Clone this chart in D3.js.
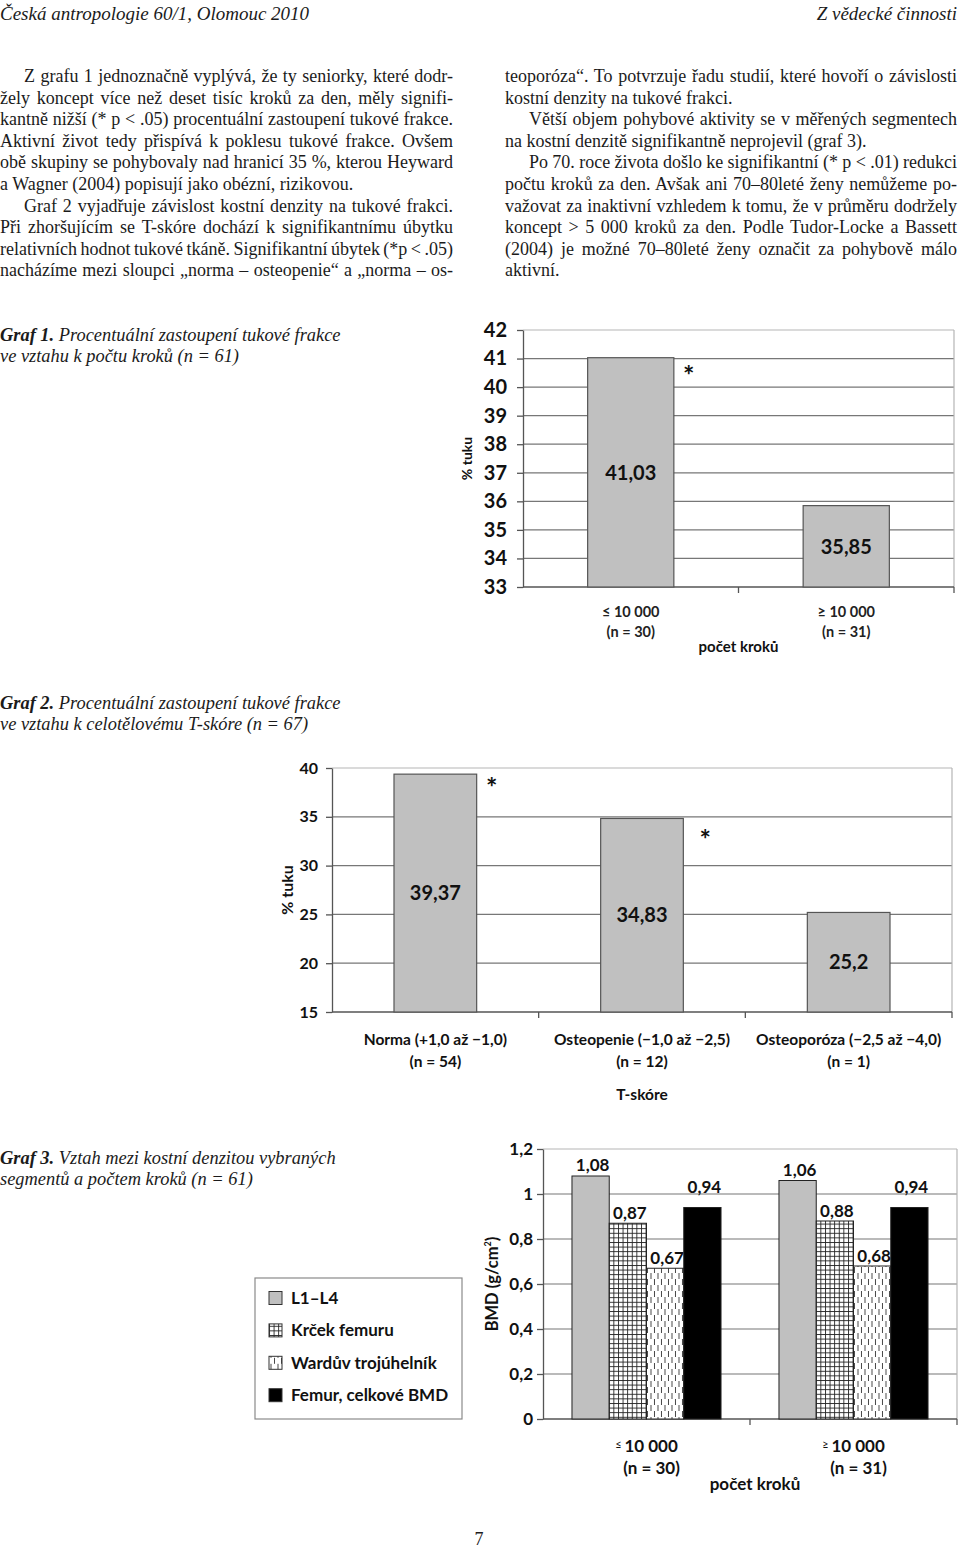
<!DOCTYPE html>
<html>
<head>
<meta charset="utf-8">
<script src="https://cdn.jsdelivr.net/npm/d3@7"></script>
<style>
  body { margin: 0; background: #fff; }
  svg { display: block; }
</style>
</head>
<body>
<div id="page"></div>
<script>
// ---- chart data ----
const stepCats = ["≤ 10 000", "≥ 10 000"];
const stepSigns = ["≤", "≥"];
const stepN = ["(n = 30)", "(n = 31)"];
const fatBySteps = [41.03, 35.85];
const fatStepTicks = [33, 34, 35, 36, 37, 38, 39, 40, 41, 42];

const tscoreCats = ["Norma (+1,0 až −1,0)", "Osteopenie (−1,0 až −2,5)", "Osteoporóza (−2,5 až −4,0)"];
const tscoreN = ["(n = 54)", "(n = 12)", "(n = 1)"];
const fatByTscore = [39.37, 34.83, 25.2];
const fatTscoreTicks = [15, 20, 25, 30, 35, 40];

const segments = ["L1–L4", "Krček femuru", "Wardův trojúhelník", "Femur, celkové BMD"];
const bmdLowSteps = [1.08, 0.87, 0.67, 0.94];
const bmdHighSteps = [1.06, 0.88, 0.68, 0.94];
const bmdTicks = [0, 0.2, 0.4, 0.6, 0.8, 1, 1.2];

// asterisks (category + level in data units)
const stars1 = [{cat: stepCats[0], v: 40.07}];
const stars2 = [{cat: tscoreCats[0], v: 37.0}, {cat: tscoreCats[1], v: 31.7}];

// ---- article text ----
const leftLines = [
  {t: "Z grafu 1 jednoznačně vyplývá, že ty seniorky, které dodr-", indent: true},
  {t: "žely koncept více než deset tisíc kroků za den, měly signifi-"},
  {t: "kantně nižší (* p < .05) procentuální zastoupení tukové frakce."},
  {t: "Aktivní život tedy přispívá k poklesu tukové frakce. Ovšem"},
  {t: "obě skupiny se pohybovaly nad hranicí 35 %, kterou Heyward"},
  {t: "a Wagner (2004) popisují jako obézní, rizikovou.", last: true},
  {t: "Graf 2 vyjadřuje závislost kostní denzity na tukové frakci.", indent: true},
  {t: "Při zhoršujícím se T-skóre dochází k signifikantnímu úbytku"},
  {t: "relativních hodnot tukové tkáně. Signifikantní úbytek (*p < .05)"},
  {t: "nacházíme mezi sloupci „norma – osteopenie“ a „norma – os-"}
];
const rightLines = [
  {t: "teoporóza“. To potvrzuje řadu studií, které hovoří o závislosti"},
  {t: "kostní denzity na tukové frakci.", last: true},
  {t: "Větší objem pohybové aktivity se v měřených segmentech", indent: true},
  {t: "na kostní denzitě signifikantně neprojevil (graf 3).", last: true},
  {t: "Po 70. roce života došlo ke signifikantní (* p < .01) redukci", indent: true},
  {t: "počtu kroků za den. Avšak ani 70–80leté ženy nemůžeme po-"},
  {t: "važovat za inaktivní vzhledem k tomu, že v průměru dodržely"},
  {t: "koncept > 5 000 kroků za den. Podle Tudor-Locke a Bassett"},
  {t: "(2004) je možné 70–80leté ženy označit za pohybově málo"},
  {t: "aktivní.", last: true}
];

const serif = '"Liberation Serif", "Times New Roman", serif';
const sans = 'Lato, "Open Sans", sans-serif';
const ink = "#1b1b1b";
const comma = v => String(v).replace(".", ",");

const W = 960, H = 1550;
const svg = d3.select("#page").append("svg")
    .attr("width", W)
    .attr("height", H);
svg.append("rect").attr("width", W).attr("height", H).attr("fill", "#fff");

// ---- page header ----
svg.append("text")
    .attr("x", 0).attr("y", 20)
    .attr("font-family", serif).attr("font-style", "italic").attr("font-size", 19)
    .attr("fill", ink)
    .text("Česká antropologie 60/1, Olomouc 2010");
svg.append("text")
    .attr("x", 957).attr("y", 20)
    .attr("text-anchor", "end")
    .attr("font-family", serif).attr("font-style", "italic").attr("font-size", 19)
    .attr("fill", ink)
    .text("Z vědecké činnosti");

// ---- two text columns, justified through word spacing ----
function column(lines, x, width, y0) {
  const indent = 24;
  lines.forEach((l, i) => {
    const t = svg.append("text")
        .attr("x", x + (l.indent ? indent : 0))
        .attr("y", y0 + i * 21.6)
        .attr("font-family", serif)
        .attr("font-size", 18)
        .attr("fill", ink)
        .text(l.t);
    if (!l.last) {
      const target = width - (l.indent ? indent : 0);
      const spaces = (l.t.match(/ /g) || []).length;
      const len = t.node().getComputedTextLength();
      if (spaces) t.style("word-spacing", ((target - len) / spaces) + "px");
    }
  });
}
column(leftLines, 0, 453, 82);
column(rightLines, 505, 452, 82);

// ---- captions ----
function caption(y, head, lines) {
  lines.forEach((line, i) => {
    const t = svg.append("text")
        .attr("x", 0).attr("y", y + i * 21)
        .attr("font-family", serif).attr("font-style", "italic").attr("font-size", 18.4)
        .attr("fill", ink);
    if (i === 0) {
      t.append("tspan").attr("font-weight", "bold").text(head + " ");
    }
    t.append("tspan").text(line);
  });
}
caption(341, "Graf 1.", ["Procentuální zastoupení tukové frakce", "ve vztahu k počtu kroků (n = 61)"]);
caption(709, "Graf 2.", ["Procentuální zastoupení tukové frakce", "ve vztahu k celotělovému T-skóre (n = 67)"]);
caption(1164, "Graf 3.", ["Vztah mezi kostní denzitou vybraných", "segmentů a počtem kroků (n = 61)"]);

svg.append("text")
    .attr("x", 479).attr("y", 1545)
    .attr("text-anchor", "middle")
    .attr("font-family", serif).attr("font-size", 18)
    .attr("fill", ink)
    .text("7");

// ---- shared chart frame: grid, axes, border ----
function frame(g, x, y, ticks, fmt, o) {
  const [xa, xb] = x.range();
  const [ya, yb] = y.range();
  const [dmin, dmax] = y.domain();

  g.selectAll("line.grid")
    .data(ticks.filter(v => v !== dmin))
    .join("line")
      .attr("class", "grid")
      .attr("x1", xa).attr("x2", xb)
      .attr("y1", d => y(d)).attr("y2", d => y(d))
      .attr("stroke", d => d === dmax ? "#b5b5b5" : "#777")
      .attr("stroke-width", 1.2);

  g.append("line")
      .attr("x1", xb).attr("x2", xb).attr("y1", yb).attr("y2", ya)
      .attr("stroke", "#b5b5b5").attr("stroke-width", 1.2);

  const ax = g.append("g")
      .attr("transform", `translate(${xa},0)`)
      .call(d3.axisLeft(y).tickValues(ticks).tickFormat(fmt)
        .tickSize(6).tickSizeOuter(0).tickPadding(o.pad));
  ax.select(".domain").attr("stroke", "#555").attr("stroke-width", 1.3);
  ax.selectAll(".tick line").attr("stroke", "#555").attr("stroke-width", 1.3);
  ax.selectAll(".tick text")
      .attr("font-family", sans).attr("font-weight", "bold")
      .attr("font-size", o.tickFont).attr("fill", "#111");

  g.append("line")
      .attr("x1", xa).attr("x2", xb).attr("y1", ya).attr("y2", ya)
      .attr("stroke", "#555").attr("stroke-width", 1.3);
  g.selectAll("line.xtick")
    .data(x.domain())
    .join("line")
      .attr("class", "xtick")
      .attr("x1", (d, i) => xa + (i + 1) * x.step())
      .attr("x2", (d, i) => xa + (i + 1) * x.step())
      .attr("y1", ya).attr("y2", ya + 6)
      .attr("stroke", "#555").attr("stroke-width", 1.3);

  g.append("text")
      .attr("transform", `translate(${o.titleX},${(ya + yb) / 2}) rotate(-90)`)
      .attr("text-anchor", "middle")
      .attr("font-family", sans).attr("font-weight", "bold")
      .attr("font-size", o.titleFont).attr("fill", "#111")
      .text(o.title);
}

// ---- Graf 1 ----
{
  const g = svg.append("g");
  const x = d3.scaleBand().domain(stepCats).range([523, 954]).paddingInner(0.6).paddingOuter(0.3);
  const y = d3.scaleLinear().domain([33, 42]).range([587, 330]);
  frame(g, x, y, fatStepTicks, d => d, {pad: 10, tickFont: 20, title: "% tuku", titleX: 472, titleFont: 14});

  g.selectAll("rect.bar")
    .data(fatBySteps)
    .join("rect")
      .attr("x", (d, i) => x(stepCats[i]))
      .attr("y", d => y(d))
      .attr("width", x.bandwidth())
      .attr("height", d => y(33) - y(d))
      .attr("fill", "#c0c0c0").attr("stroke", "#555").attr("stroke-width", 1.2);

  g.selectAll("text.val")
    .data(fatBySteps)
    .join("text")
      .attr("x", (d, i) => x(stepCats[i]) + x.bandwidth() / 2)
      .attr("y", d => (y(d) + y(33)) / 2)
      .attr("dy", "0.36em")
      .attr("text-anchor", "middle")
      .attr("font-family", sans).attr("font-weight", "bold").attr("font-size", 20)
      .attr("fill", "#111")
      .text(comma);

  const lab = g.selectAll("g.xl").data(stepCats).join("g")
      .attr("transform", d => `translate(${x(d) + x.bandwidth() / 2},0)`);
  lab.append("text")
      .attr("y", y(33) + 30).attr("text-anchor", "middle")
      .attr("font-family", sans).attr("font-weight", "bold").attr("font-size", 14.5).attr("fill", "#222")
      .text(d => d);
  lab.append("text")
      .attr("y", y(33) + 50).attr("text-anchor", "middle")
      .attr("font-family", sans).attr("font-weight", "bold").attr("font-size", 14.5).attr("fill", "#222")
      .text((d, i) => stepN[i]);
  g.append("text")
      .attr("x", (523 + 954) / 2).attr("y", y(33) + 65).attr("text-anchor", "middle")
      .attr("font-family", sans).attr("font-weight", "bold").attr("font-size", 15).attr("fill", "#111")
      .text("počet kroků");

  g.selectAll("text.star")
    .data(stars1)
    .join("text")
      .attr("x", d => x(d.cat) + x.bandwidth() + 15)
      .attr("y", d => y(d.v))
      .attr("text-anchor", "middle")
      .attr("font-family", sans).attr("font-weight", "bold").attr("font-size", 27).attr("fill", "#111")
      .text("*");
}

// ---- Graf 2 ----
{
  const g = svg.append("g");
  const x = d3.scaleBand().domain(tscoreCats).range([332, 952]).paddingInner(0.6).paddingOuter(0.3);
  const y = d3.scaleLinear().domain([15, 40]).range([1012, 768]);
  frame(g, x, y, fatTscoreTicks, d => d, {pad: 8, tickFont: 16, title: "% tuku", titleX: 293, titleFont: 16});

  g.selectAll("rect.bar")
    .data(fatByTscore)
    .join("rect")
      .attr("x", (d, i) => x(tscoreCats[i]))
      .attr("y", d => y(d))
      .attr("width", x.bandwidth())
      .attr("height", d => y(15) - y(d))
      .attr("fill", "#c0c0c0").attr("stroke", "#555").attr("stroke-width", 1.2);

  g.selectAll("text.val")
    .data(fatByTscore)
    .join("text")
      .attr("x", (d, i) => x(tscoreCats[i]) + x.bandwidth() / 2)
      .attr("y", d => (y(d) + y(15)) / 2)
      .attr("dy", "0.36em")
      .attr("text-anchor", "middle")
      .attr("font-family", sans).attr("font-weight", "bold").attr("font-size", 20)
      .attr("fill", "#111")
      .text(comma);

  const lab = g.selectAll("g.xl").data(tscoreCats).join("g")
      .attr("transform", d => `translate(${x(d) + x.bandwidth() / 2},0)`);
  lab.append("text")
      .attr("y", y(15) + 33).attr("text-anchor", "middle")
      .attr("font-family", sans).attr("font-weight", "bold").attr("font-size", 15.5).attr("fill", "#111")
      .text(d => d);
  lab.append("text")
      .attr("y", y(15) + 55).attr("text-anchor", "middle")
      .attr("font-family", sans).attr("font-weight", "bold").attr("font-size", 15.5).attr("fill", "#111")
      .text((d, i) => tscoreN[i]);
  g.append("text")
      .attr("x", x(tscoreCats[1]) + x.bandwidth() / 2).attr("y", y(15) + 88).attr("text-anchor", "middle")
      .attr("font-family", sans).attr("font-weight", "bold").attr("font-size", 15.5).attr("fill", "#111")
      .text("T-skóre");

  g.selectAll("text.star")
    .data(stars2)
    .join("text")
      .attr("x", (d, i) => x(d.cat) + x.bandwidth() + (i ? 22 : 15))
      .attr("y", d => y(d.v))
      .attr("text-anchor", "middle")
      .attr("font-family", sans).attr("font-weight", "bold").attr("font-size", 27).attr("fill", "#111")
      .text("*");
}

// ---- Graf 3 ----
{
  const defs = svg.append("defs");
  const grid = defs.append("pattern").attr("id", "pGrid")
      .attr("patternUnits", "userSpaceOnUse").attr("width", 4.6).attr("height", 4.6);
  grid.append("rect").attr("width", 4.6).attr("height", 4.6).attr("fill", "#fff");
  grid.append("path").attr("d", "M0,0.5H4.6M0.5,0V4.6").attr("stroke", "#222").attr("stroke-width", 0.9);

  const dash = defs.append("pattern").attr("id", "pDash")
      .attr("patternUnits", "userSpaceOnUse").attr("width", 7).attr("height", 12);
  dash.append("rect").attr("width", 7).attr("height", 12).attr("fill", "#fff");
  dash.append("path").attr("d", "M2,1V7M5.5,7V13M5.5,-5V1").attr("stroke", "#333").attr("stroke-width", 0.9);

  const fills = ["#c0c0c0", "url(#pGrid)", "url(#pDash)", "#000"];
  const labelLift = [5, 4, 4, 15];

  const g = svg.append("g");
  const x0 = d3.scaleBand().domain(stepCats).range([543, 957]).paddingInner(0.28).paddingOuter(0.14);
  const x1 = d3.scaleBand().domain(segments).range([0, x0.bandwidth()]);
  const y = d3.scaleLinear().domain([0, 1.2]).range([1419, 1149]);
  frame(g, x0, y, bmdTicks, comma, {pad: 4, tickFont: 17, title: "", titleX: 0, titleFont: 16});

  // axis title with superscript
  const yt = g.append("text")
      .attr("transform", `translate(498,1284) rotate(-90)`)
      .attr("text-anchor", "middle")
      .attr("font-family", sans).attr("font-weight", "bold").attr("font-size", 16.5).attr("fill", "#111");
  yt.append("tspan").text("BMD (g/cm");
  yt.append("tspan").attr("font-size", 9).attr("dy", -7).text("2");
  yt.append("tspan").attr("dy", 7).text(")");

  const groups = [bmdLowSteps, bmdHighSteps];
  const gg = g.selectAll("g.grp").data(groups).join("g")
      .attr("class", "grp")
      .attr("transform", (d, i) => `translate(${x0(stepCats[i])},0)`);

  gg.selectAll("rect")
    .data(d => d)
    .join("rect")
      .attr("x", (d, j) => x1(segments[j]))
      .attr("y", d => y(d))
      .attr("width", x1.bandwidth())
      .attr("height", d => y(0) - y(d))
      .attr("fill", (d, j) => fills[j])
      .attr("stroke", "#222").attr("stroke-width", 1);

  gg.selectAll("text")
    .data(d => d)
    .join("text")
      .attr("x", (d, j) => x1(segments[j]) + x1.bandwidth() / 2 + 2)
      .attr("y", (d, j) => y(d) - labelLift[j])
      .attr("text-anchor", "middle")
      .attr("font-family", sans).attr("font-weight", "bold").attr("font-size", 17).attr("fill", "#111")
      .text(comma);

  const lab = g.selectAll("g.xl").data(stepCats).join("g")
      .attr("transform", d => `translate(${x0(d) + x0.bandwidth() / 2},0)`);
  const l1 = lab.append("text")
      .attr("y", y(0) + 33).attr("text-anchor", "middle")
      .attr("font-family", sans).attr("font-weight", "bold").attr("font-size", 17).attr("fill", "#111");
  l1.append("tspan").attr("font-size", 11).attr("font-weight", "normal").attr("dy", -4).text((d, i) => stepSigns[i] + " ");
  l1.append("tspan").attr("dy", 4).text(d => d.slice(2));
  lab.append("text")
      .attr("x", 5)
      .attr("y", y(0) + 55).attr("text-anchor", "middle")
      .attr("font-family", sans).attr("font-weight", "bold").attr("font-size", 17).attr("fill", "#111")
      .text((d, i) => stepN[i]);
  g.append("text")
      .attr("x", (543 + 957) / 2 + 5).attr("y", y(0) + 71).attr("text-anchor", "middle")
      .attr("font-family", sans).attr("font-weight", "bold").attr("font-size", 17).attr("fill", "#111")
      .text("počet kroků");

  // legend
  const lg = svg.append("g");
  lg.append("rect")
      .attr("x", 255).attr("y", 1278).attr("width", 207).attr("height", 141)
      .attr("fill", "#fff").attr("stroke", "#8a8a8a").attr("stroke-width", 1.2);
  const item = lg.selectAll("g.item").data(segments).join("g")
      .attr("transform", (d, i) => `translate(269,${1298 + i * 32.4})`);
  item.append("rect")
      .attr("x", 0).attr("y", -6.5).attr("width", 13).attr("height", 13)
      .attr("fill", (d, i) => fills[i]).attr("stroke", "#333").attr("stroke-width", 1);
  item.append("text")
      .attr("x", 22).attr("y", 6)
      .attr("font-family", sans).attr("font-weight", "bold").attr("font-size", 17).attr("fill", "#111")
      .text(d => d);
}
</script>
</body>
</html>
